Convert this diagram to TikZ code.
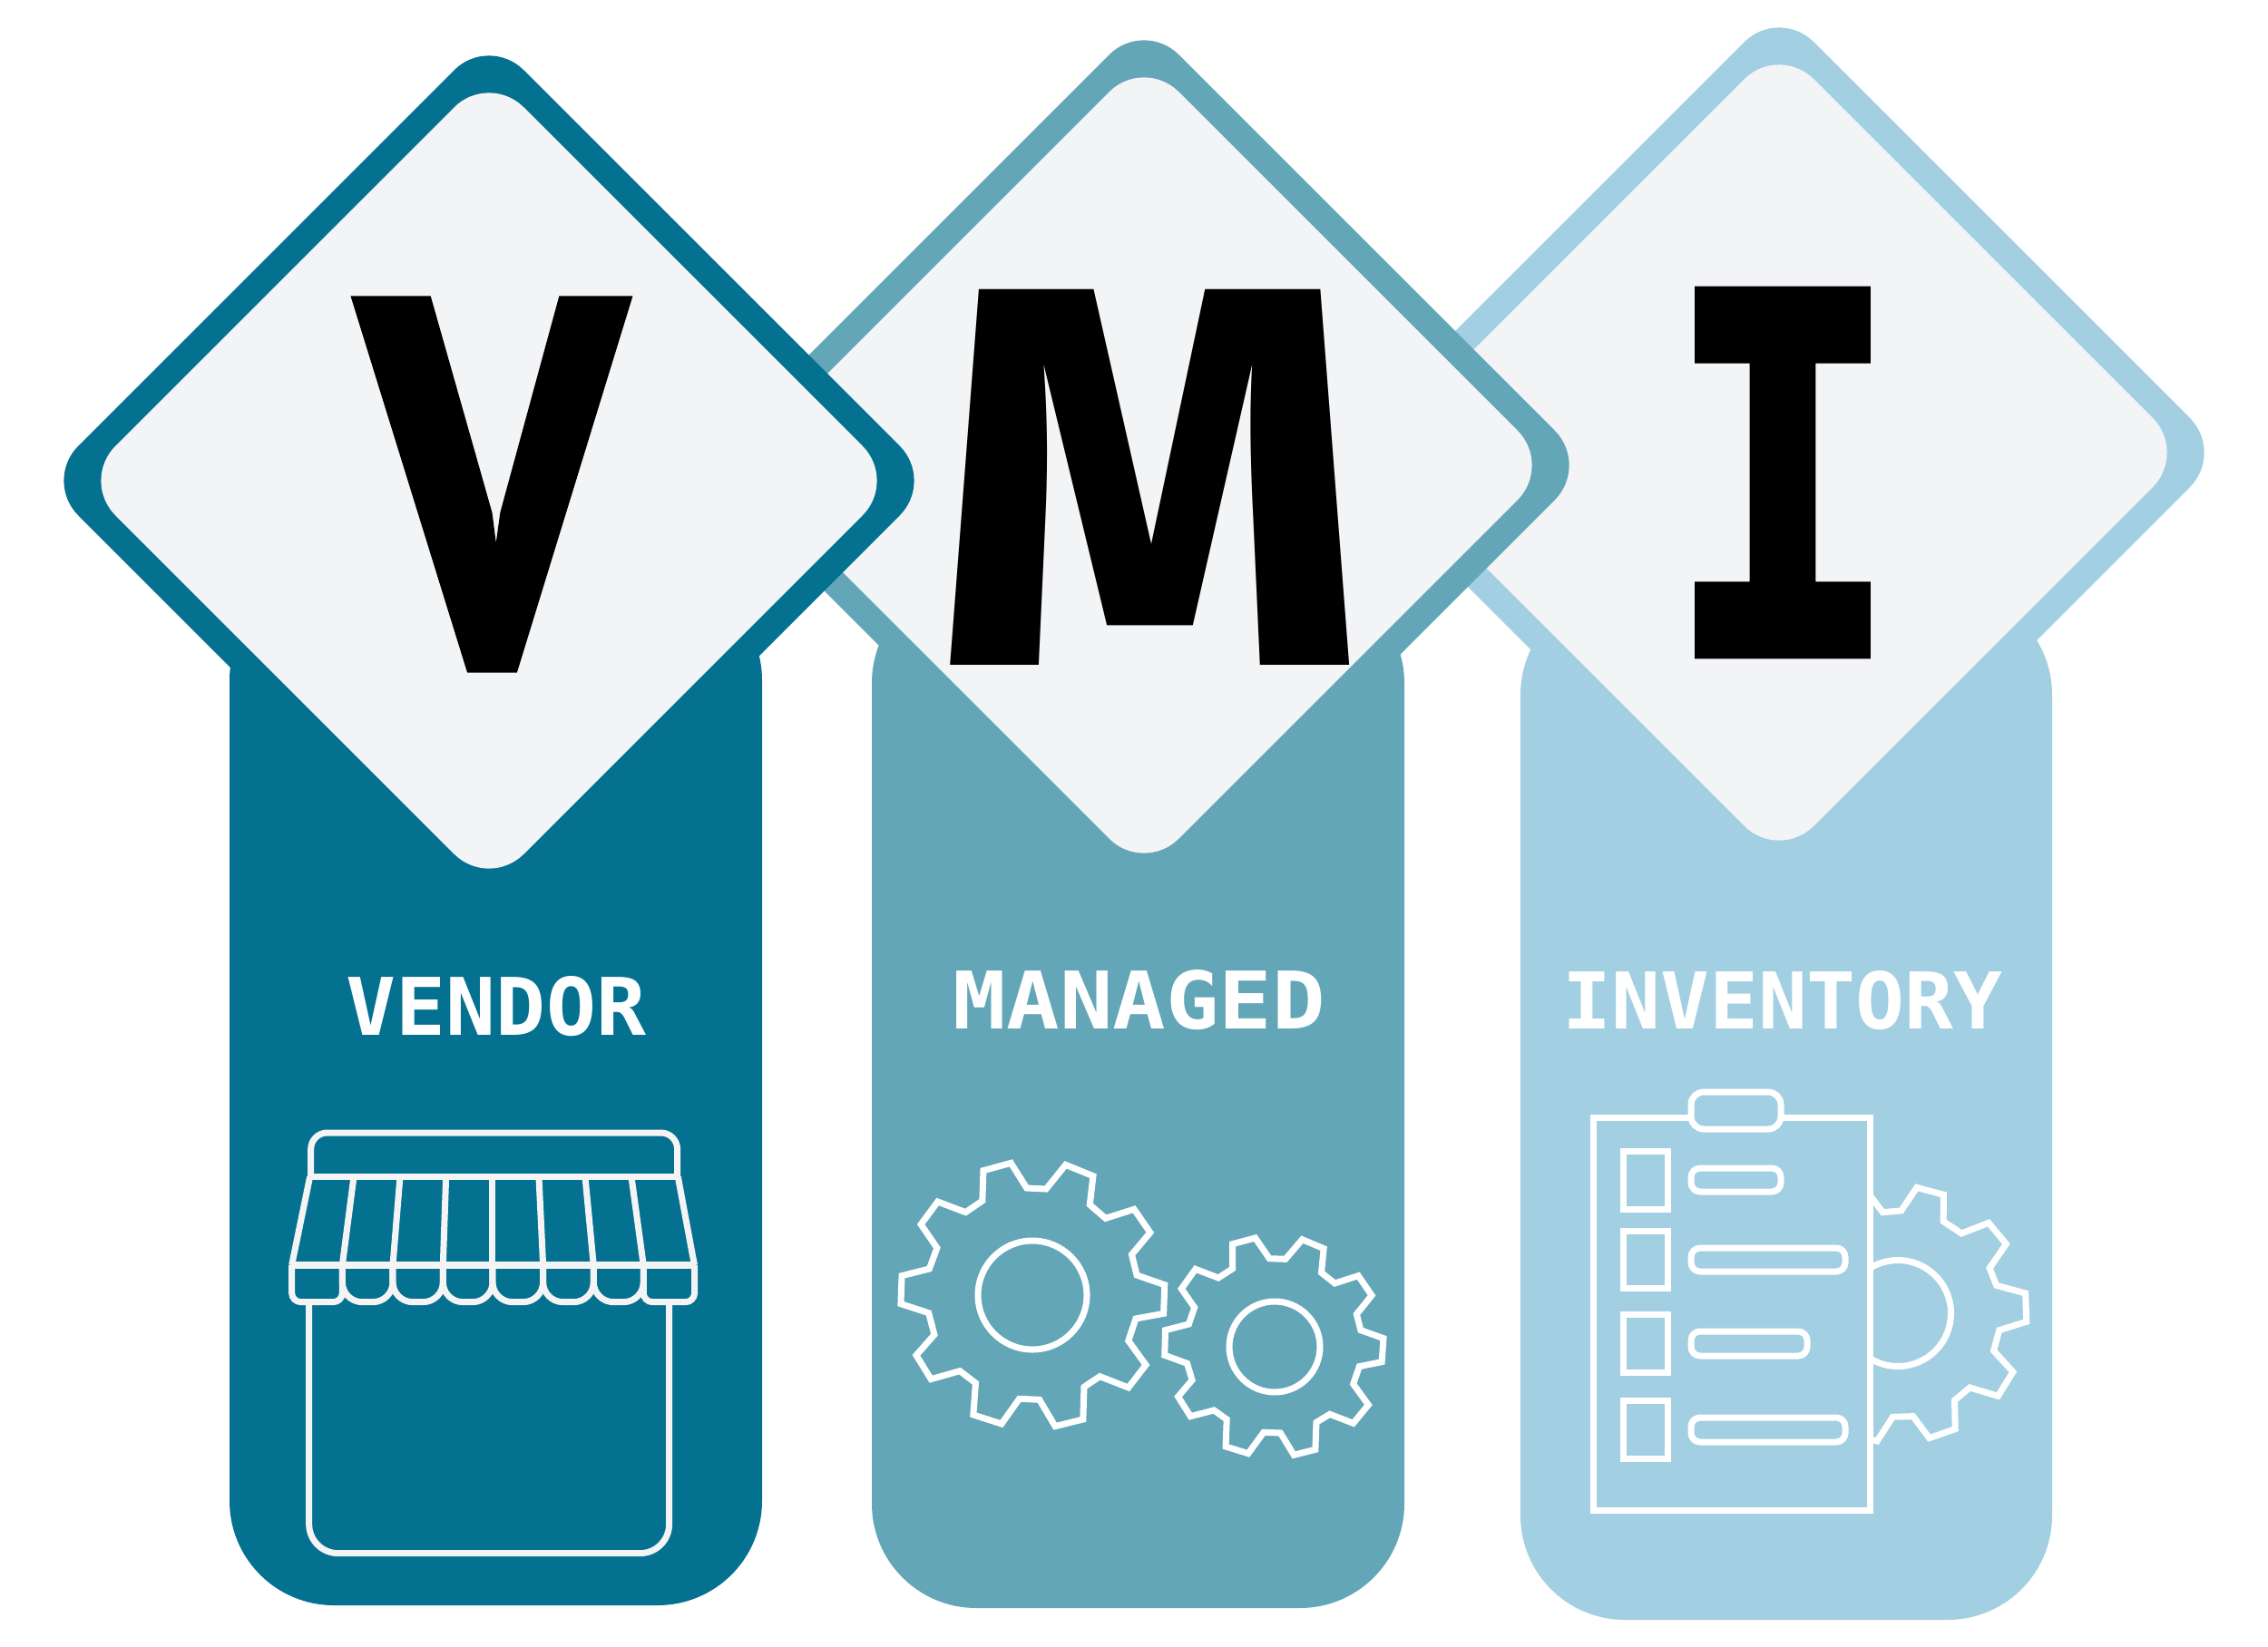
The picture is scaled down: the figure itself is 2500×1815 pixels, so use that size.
\documentclass[tikz,border=0pt]{standalone}
\usepackage{fontspec}
\newfontfamily\bigfont{PT Sans}[BoldFeatures={FakeBold=2.5}]
\newfontfamily\widefont{Fira Sans}
\newfontfamily\monofont{DejaVu Sans Mono}
\newfontfamily\slabfont{DejaVu Sans Mono}[BoldFeatures={FakeBold=3}]
\definecolor{darkteal}{HTML}{057191}
\definecolor{midteal}{HTML}{63A6B8}
\definecolor{paleblue}{HTML}{A3CFE2}
\definecolor{cardgrey}{HTML}{F3F4F6}
\definecolor{iconwhite}{HTML}{F4F4F4}
\tikzset{
    letter/.style={inner sep=0pt, text=black},
    word/.style={inner sep=0pt, text=white},
    icon/.style={line width=0.07cm, draw=iconwhite, line join=miter},
    iconw/.style={line width=0.07cm, draw=white, line join=miter},
}

\begin{document}
\begin{tikzpicture}[x=0.01cm, y=-0.01cm]
    
    \useasboundingbox (0,0) rectangle (2500,1815);
    
    % right column
    \fill[paleblue, rounded corners=1.15cm] (1676,651) rectangle (2262,1786);
    \fill[paleblue, rounded corners=0.54cm] (1961,8) -- (2452,499) -- (1961,990) -- (1470,499) -- cycle;
    \fill[cardgrey, rounded corners=0.54cm] (1961,49) -- (2411,499) -- (1961,949) -- (1511,499) -- cycle;
    
    % middle column
    \fill[midteal, rounded corners=1.15cm] (961,638) rectangle (1548,1773);
    \fill[midteal, rounded corners=0.54cm] (1261,22) -- (1752,513) -- (1261,1004) -- (770,513) -- cycle;
    \fill[cardgrey, rounded corners=0.54cm] (1261,63) -- (1711,513) -- (1261,963) -- (811,513) -- cycle;
    
    % left column
    \fill[darkteal, rounded corners=1.15cm] (253,635) rectangle (840,1770);
    \fill[darkteal, rounded corners=0.54cm] (539,39) -- (1030,530) -- (539,1021) -- (48,530) -- cycle;
    \fill[cardgrey, rounded corners=0.54cm] (539,80) -- (989,530) -- (539,980) -- (89,530) -- cycle;
    
    % letters
    \node[letter] (letterV) at (542,534) {\resizebox{2.85cm}{3.98cm}{\bigfont\bfseries V}};
    \node[letter] (letterM) at (1268,526) {\resizebox{4.8cm}{4.14cm}{\widefont\bfseries M}};
    \node[letter] (letterI) at (1965,521) {\resizebox{2.51cm}{3.94cm}{\slabfont\bfseries I}};
    
    % words
    \node[word] (wordvendor) at (547,1110) {\resizebox{3.3cm}{0.65cm}{\monofont\bfseries VENDOR}};
    \node[word] (wordmanaged) at (1256,1103) {\resizebox{4.1cm}{0.65cm}{\monofont\bfseries MANAGED}};
    \node[word] (wordinventory) at (1965,1103) {\resizebox{4.85cm}{0.64cm}{\monofont\bfseries INVENTORY}};
    
    % shop
    \begin{scope}[shift={(300,1220)}, scale=0.3333]
        \draw[icon, rounded corners=0.18cm] (128,232) -- (128,87) -- (1340,87) -- (1340,232);
        \draw[icon] (125,232) -- (1342,232);
        \draw[icon] (125,232) -- (72,490) -- (65,525);
        \draw[icon] (1342,232) -- (1390,490) -- (1397,525);
        \draw[icon] (65,525) -- (1397,525);
        \foreach \top/\low in {270/232, 423/399, 575/565, 729/729, 882/896, 1035/1063, 1188/1228}
            \draw[icon] (\top,232) -- (\low,525);
        \foreach \from/\to in {232/399, 399/565, 565/729, 729/896, 896/1063, 1063/1228}
            \draw[icon, rounded corners=0.22cm] (\from,525) -- (\from,647) -- (\to,647) -- (\to,525);
        \draw[icon, rounded corners=0.1cm] (65,525) -- (65,647) -- (232,647) -- (232,525);
        \draw[icon, rounded corners=0.1cm] (1228,525) -- (1228,647) -- (1397,647) -- (1397,525);
        \draw[icon, rounded corners=0.32cm] (122,650) -- (122,1478) -- (1313,1478) -- (1313,650);
    \end{scope}
    
    % big gear
    \begin{scope}[shift={(970,1250)}, xscale=0.37, yscale=0.3333]
        \draw[iconw] (308,122) -- (390,97) -- (437,180) -- (495,183) -- (553,103) -- (635,140) -- (625,235) -- (672,280)
            -- (757,250) -- (805,327) -- (750,400) -- (765,468) -- (848,500) -- (845,595) -- (762,612) -- (740,685)
            -- (792,765) -- (740,840) -- (655,803) -- (608,838) -- (605,945) -- (522,968) -- (475,880) -- (415,877)
            -- (362,960) -- (278,930) -- (285,825) -- (238,785) -- (152,812) -- (108,733) -- (162,665) -- (145,593)
            -- (62,563) -- (65,470) -- (147,447) -- (170,378) -- (122,300) -- (172,225) -- (255,260) -- (305,222) -- cycle;
        % small gear
        \draw[iconw] (1050,365) -- (1118,345) -- (1160,413) -- (1208,415) -- (1258,350) -- (1322,380) -- (1315,460) -- (1355,495)
            -- (1425,470) -- (1465,535) -- (1420,597) -- (1432,650) -- (1500,677) -- (1495,755) -- (1428,770) -- (1410,828)
            -- (1455,897) -- (1410,958) -- (1340,928) -- (1300,955) -- (1297,1045) -- (1233,1063) -- (1193,990) -- (1143,988)
            -- (1097,1058) -- (1030,1035) -- (1033,945) -- (995,915) -- (925,935) -- (888,870) -- (930,815) -- (915,760)
            -- (848,733) -- (850,650) -- (920,630) -- (937,575) -- (898,513) -- (940,448) -- (1008,477) -- (1050,447) -- cycle;
    \end{scope}
    \draw[iconw] (1138,1428) circle (60);
    \draw[iconw] (1405,1485) circle (50);
    
    % gear behind the board
    \draw[iconw] (2092,1448) circle (58.5);
    \begin{scope}[shift={(1730,1180)}, xscale=0.3443, yscale=0.3333]
        \draw[iconw] (900,330) -- (1003,470) -- (1062,465) -- (1112,388) -- (1198,412) -- (1197,500) -- (1255,540) -- (1342,505)
            -- (1398,575) -- (1345,655) -- (1367,712) -- (1460,738) -- (1463,832) -- (1376,860) -- (1358,928) -- (1420,998)
            -- (1372,1078) -- (1282,1050) -- (1233,1092) -- (1235,1187) -- (1152,1217) -- (1100,1145) -- (1035,1147)
            -- (985,1227) -- (900,1205);
    \end{scope}
    
    % board
    \draw[iconw, fill=paleblue] (1756,1232) rectangle (2061,1665);
    \draw[iconw, fill=paleblue, rounded corners=0.14cm] (1864,1204) rectangle (1963,1245);
    \foreach \ytop/\ylow in {1269/1333, 1357/1420, 1449/1513, 1544/1608}
        \draw[iconw] (1789,\ytop) rectangle (1838,\ylow);
    \foreach \xend/\ytop/\ylow in {1963/1288/1314, 2034/1376/1402, 1992/1468/1495, 2034/1563/1590}
        \draw[iconw, rounded corners=0.1cm] (1864,\ytop) rectangle (\xend,\ylow);
    
\end{tikzpicture}
\end{document}
